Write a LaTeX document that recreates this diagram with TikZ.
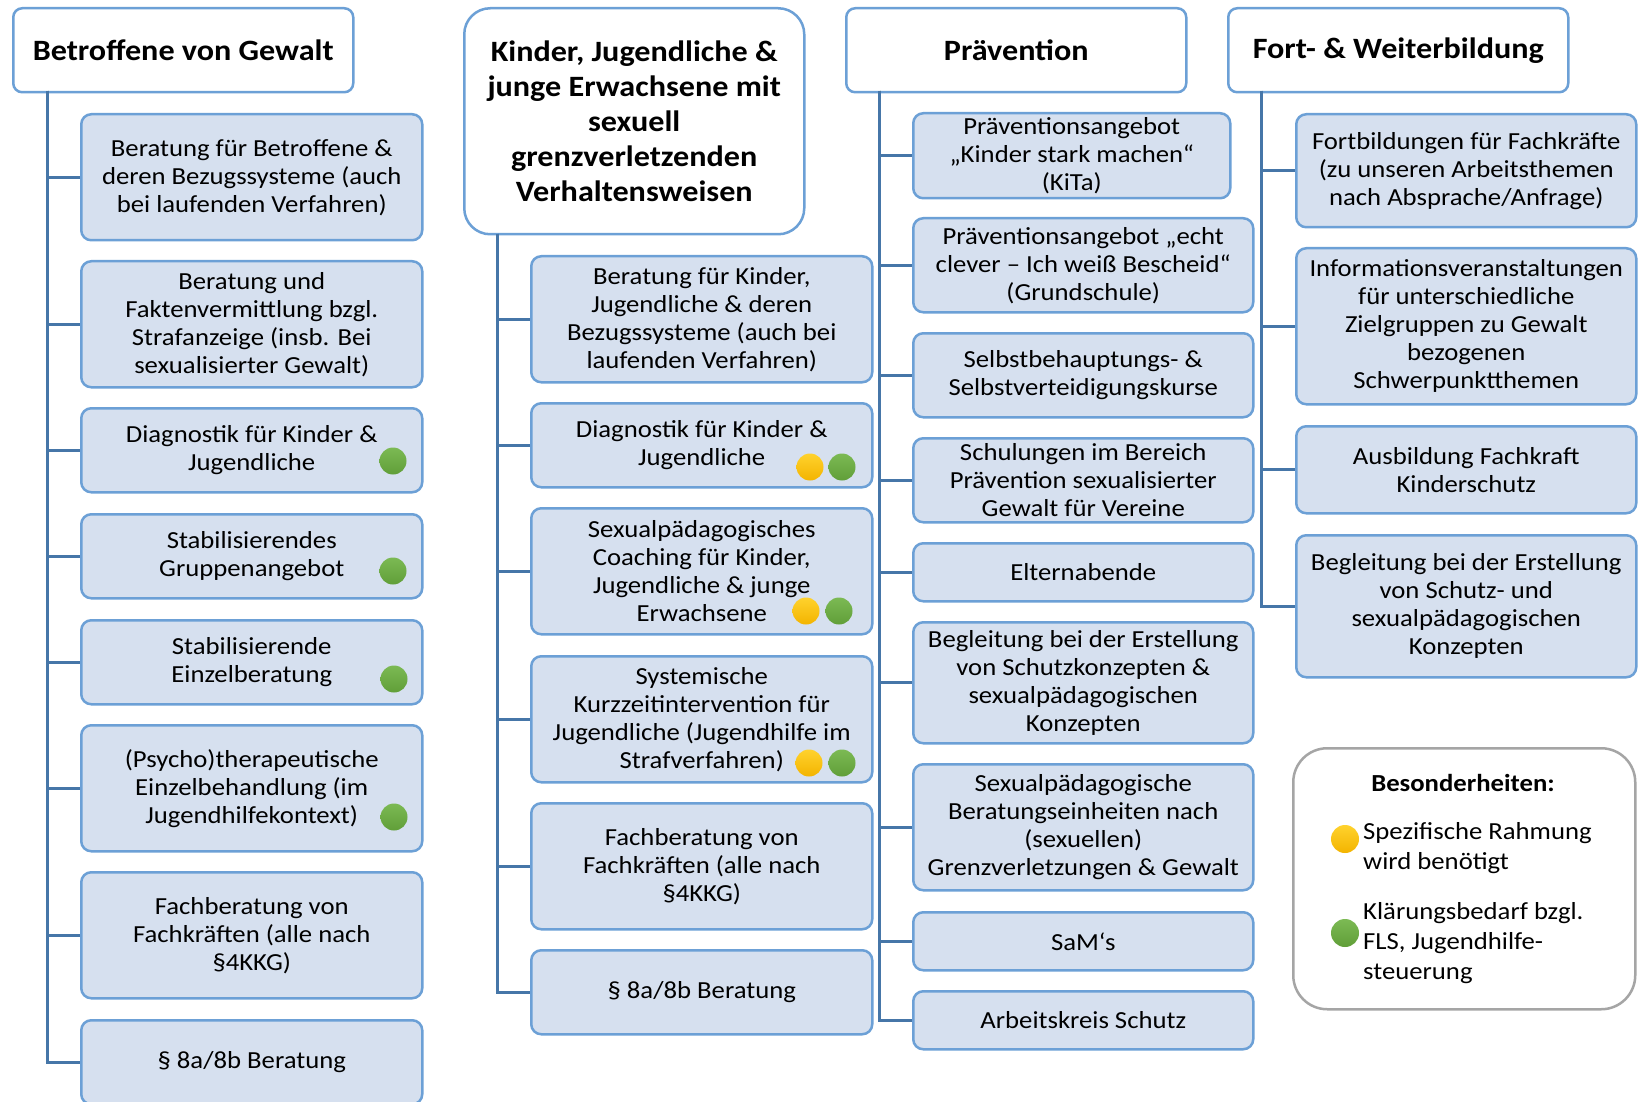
\documentclass[tikz,border=0pt]{standalone}
\usepackage{fontspec}
\setmainfont{Carlito}[FakeStretch=1.09]
\usetikzlibrary{positioning}
\usepackage{xcolor}

\definecolor{boxfill}{RGB}{214,224,239}
\definecolor{boxline}{RGB}{108,160,214}
\definecolor{trunkline}{RGB}{70,118,168}
\definecolor{legendline}{RGB}{165,165,165}
\definecolor{yellowtop}{RGB}{255,210,45}
\definecolor{yellowbot}{RGB}{243,180,0}
\definecolor{greentop}{RGB}{124,186,84}
\definecolor{greenbot}{RGB}{96,158,56}

\tikzset{
	head/.style={draw=boxline, line width=2.5pt, fill=white, rounded corners=9pt,
		align=center, inner sep=0pt, anchor=north west, minimum width=340pt,
		minimum height=84pt, font=\bfseries\fontsize{29.5}{35}\selectfont},
	item/.style={draw=boxline, line width=2.5pt, fill=boxfill, rounded corners=10pt,
		align=center, inner sep=0pt, anchor=north west, minimum width=341pt,
		font=\fontsize{24.5}{28}\selectfont},
	trunk/.style={draw=trunkline, line width=3pt},
	dotY/.style={circle, inner sep=0pt, minimum size=27pt, top color=yellowtop, bottom color=yellowbot},
	dotG/.style={circle, inner sep=0pt, minimum size=27pt, top color=greentop, bottom color=greenbot},
	legend/.style={draw=legendline, line width=2.5pt, rounded corners=34pt,
		anchor=north west, minimum width=342pt, minimum height=261pt, inner sep=0pt},
}

\begin{document}
\begin{tikzpicture}[x=1pt, y=-1pt]
	\useasboundingbox (0,0) rectangle (1650,1102);
	\clip (0,0) rectangle (1650,1102);
	\fill[white] (0,0) rectangle (1650,1102);
	% Headers
	\node[head] (hd1) at (12,7) {Betroffene von Gewalt};
	\node[head, minimum height=226pt, rounded corners=26pt] (hd2) at (463,7)
	{Kinder, Jugendliche \&\\junge Erwachsene mit\\sexuell\\grenzverletzenden\\Verhaltensweisen};
	\node[head] (hd3) at (845,7) {Prävention};
	\node[head] (hd4) at (1227,7) {Fort- \& Weiterbildung};
	% Trunk start points
	\coordinate (t1) at (47,91);
	\coordinate (t2) at (497,234);
	\coordinate (t3) at (879,91);
	\coordinate (t4) at (1261,91);
	% Betroffene von Gewalt
	\node[item, minimum height=126pt] (a1) at (80,113) {Beratung für Betroffene \&\\deren Bezugssysteme (auch\\bei laufenden Verfahren)};
	\node[item, minimum height=126pt] (a2) at (80,260) {Beratung und\\Faktenvermittlung bzgl.\\Strafanzeige (insb. Bei\\sexualisierter Gewalt)};
	\node[item, minimum height=84pt] (a3) at (80,407) {Diagnostik für Kinder \&\\Jugendliche};
	\node[item, minimum height=84pt] (a4) at (80,513) {Stabilisierendes\\Gruppenangebot};
	\node[item, minimum height=84pt] (a5) at (80,619) {Stabilisierende\\Einzelberatung};
	\node[item, minimum height=126pt] (a6) at (80,724) {(Psycho)therapeutische\\Einzelbehandlung (im\\Jugendhilfekontext)};
	\node[item, minimum height=126pt] (a7) at (80,871) {Fachberatung von\\Fachkräften (alle nach\\§4KKG)};
	\node[item, minimum height=84pt] (a8) at (80,1019) {§ 8a/8b Beratung};
	\node[dotG] (a3g) at (393,461) {};
	\node[dotG] (a4g) at (393,571) {};
	\node[dotG] (a5g) at (394,679) {};
	\node[dotG] (a6g) at (394,817) {};
	% Kinder, Jugendliche & junge Erwachsene
	\node[item, minimum height=126pt] (b1) at (530,255) {Beratung für Kinder,\\Jugendliche \& deren\\Bezugssysteme (auch bei\\laufenden Verfahren)};
	\node[item, minimum height=84pt] (b2) at (530,402) {Diagnostik für Kinder \&\\Jugendliche};
	\node[item, minimum height=126pt] (b3) at (530,507) {Sexualpädagogisches\\Coaching für Kinder,\\Jugendliche \& junge\\Erwachsene};
	\node[item, minimum height=126pt] (b4) at (530,655) {Systemische\\Kurzzeitintervention für\\Jugendliche (Jugendhilfe im\\Strafverfahren)};
	\node[item, minimum height=126pt] (b5) at (530,802) {Fachberatung von\\Fachkräften (alle nach\\§4KKG)};
	\node[item, minimum height=84pt] (b6) at (530,949) {§ 8a/8b Beratung};
	\node[dotY] (b2y) at (810,467) {};
	\node[dotG] (b2g) at (842,467) {};
	\node[dotY] (b3y) at (806,611) {};
	\node[dotG] (b3g) at (839,611) {};
	\node[dotY] (b4y) at (809,763) {};
	\node[dotG] (b4g) at (842,763) {};
	% Prävention
	\node[item, minimum width=317pt, minimum height=85pt] (c1) at (912,112) {Präventionsangebot\\„Kinder stark machen“\\(KiTa)};
	\node[item, minimum width=340pt, minimum height=94pt] (c2) at (912,217) {Präventionsangebot „echt\\clever – Ich weiß Bescheid“\\(Grundschule)};
	\node[item, minimum width=340pt, minimum height=84pt] (c3) at (912,332) {Selbstbehauptungs- \&\\Selbstverteidigungskurse};
	\node[item, minimum width=340pt, minimum height=84pt] (c4) at (912,437) {Schulungen im Bereich\\Prävention sexualisierter\\Gewalt für Vereine};
	\node[item, minimum width=340pt, minimum height=58pt] (c5) at (912,542) {Elternabende};
	\node[item, minimum width=340pt, minimum height=121pt] (c6) at (912,621) {Begleitung bei der Erstellung\\von Schutzkonzepten \&\\sexualpädagogischen\\Konzepten};
	\node[item, minimum width=340pt, minimum height=126pt] (c7) at (912,763) {Sexualpädagogische\\Beratungseinheiten nach\\(sexuellen)\\Grenzverletzungen \& Gewalt};
	\node[item, minimum width=340pt, minimum height=58pt] (c8) at (912,911) {SaM‘s};
	\node[item, minimum width=340pt, minimum height=58pt] (c9) at (912,990) {Arbeitskreis Schutz};
	% Fort- & Weiterbildung
	\node[item, minimum width=340pt, minimum height=113pt] (d1) at (1295,113) {Fortbildungen für Fachkräfte\\(zu unseren Arbeitsthemen\\nach Absprache/Anfrage)};
	\node[item, minimum width=340pt, minimum height=156pt] (d2) at (1295,247) {Informationsveranstaltungen\\für unterschiedliche\\Zielgruppen zu Gewalt\\bezogenen\\Schwerpunktthemen};
	\node[item, minimum width=340pt, minimum height=87pt] (d3) at (1295,425) {Ausbildung Fachkraft\\Kinderschutz};
	\node[item, minimum width=340pt, minimum height=142pt] (d4) at (1295,534) {Begleitung bei der Erstellung\\von Schutz- und\\sexualpädagogischen\\Konzepten};
	% Connectors
	\foreach \i in {1,...,8} \draw[trunk] (t1) |- (a\i.west);
	\foreach \i in {1,...,6} \draw[trunk] (t2) |- (b\i.west);
	\foreach \i in {1,...,9} \draw[trunk] (t3) |- (c\i.west);
	\foreach \i in {1,...,4} \draw[trunk] (t4) |- (d\i.west);
	% Legend
	\node[legend] (leg) at (1292,747) {};
	\node[font=\bfseries\fontsize{24.5}{28}\selectfont] (legtitle) at (1463,783) {Besonderheiten:};
	\node[dotY, minimum size=28pt] (legy) at (1345,839) {};
	\node[dotG, minimum size=28pt] (legg) at (1345,933) {};
	\node[anchor=west, align=left, inner sep=0pt, font=\fontsize{24.5}{30}\selectfont] (legytext) at (1363,848) {Spezifische Rahmung\\wird benötigt};
	\node[anchor=west, align=left, inner sep=0pt, font=\fontsize{24.5}{30}\selectfont] (leggtext) at (1363,943) {Klärungsbedarf bzgl.\\FLS, Jugendhilfe-\\steuerung};
\end{tikzpicture}
\end{document}
